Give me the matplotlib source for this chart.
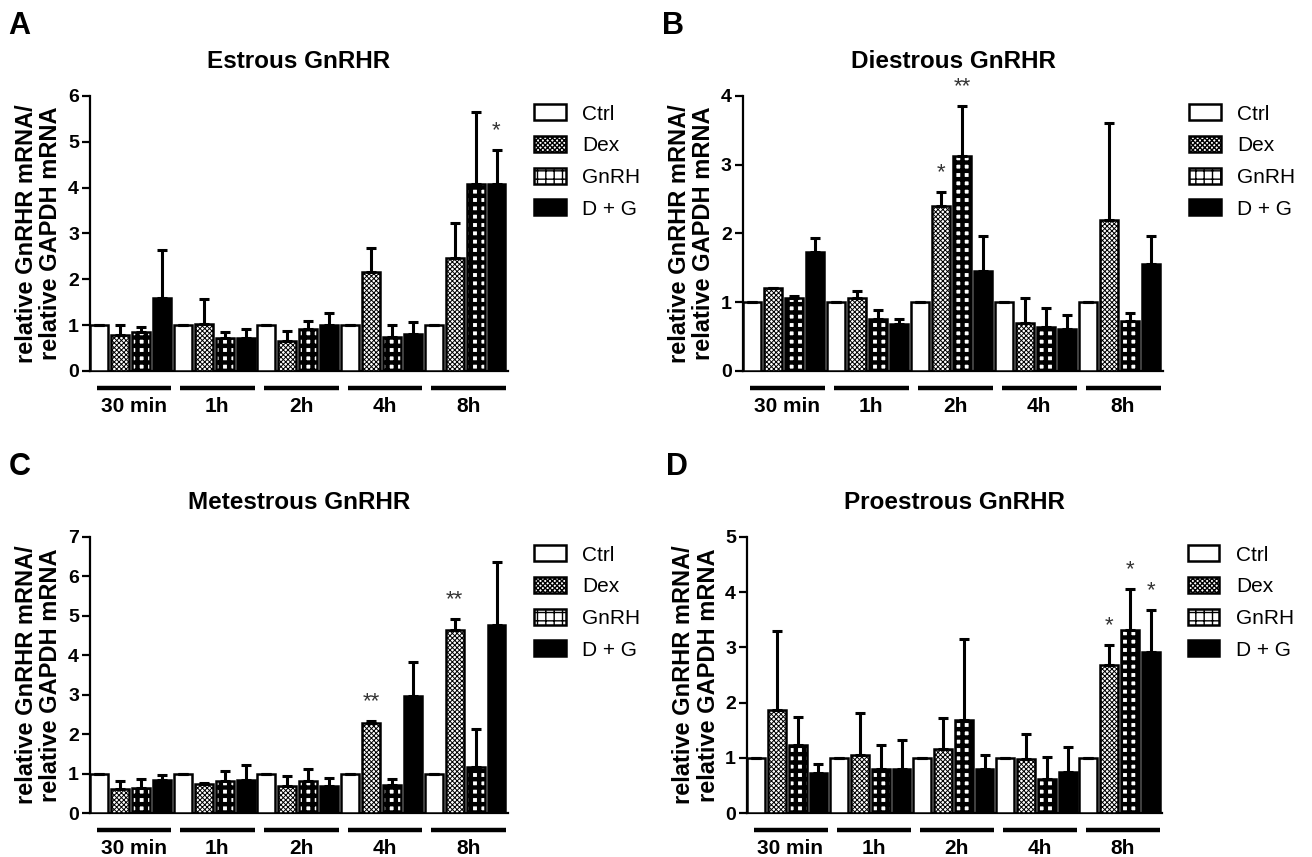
import matplotlib
matplotlib.use('Agg')
import matplotlib.pyplot as plt
import numpy as np

plt.rcParams['font.family'] = ['Liberation Sans', 'DejaVu Sans']
plt.rcParams['font.weight'] = 'bold'

times = ['30 min', '1h', '2h', '4h', '8h']
treatments = ['Ctrl', 'Dex', 'GnRH', 'D + G']

# mean values per treatment, one entry per time point
estrous = {
    'Ctrl': [1, 1, 1, 1, 1],
    'Dex': [0.78, 1.03, 0.65, 2.15, 2.47],
    'GnRH': [0.85, 0.72, 0.92, 0.75, 4.07],
    'D + G': [1.60, 0.72, 1.00, 0.81, 4.07],
}
estrous_err = {
    'Ctrl': [0, 0, 0, 0, 0],
    'Dex': [0.22, 0.53, 0.23, 0.54, 0.76],
    'GnRH': [0.10, 0.12, 0.18, 0.25, 1.58],
    'D + G': [1.04, 0.19, 0.26, 0.25, 0.76],
}
diestrous = {
    'Ctrl': [1, 1, 1, 1, 1],
    'Dex': [1.20, 1.06, 2.40, 0.70, 2.20],
    'GnRH': [1.06, 0.75, 3.13, 0.64, 0.73],
    'D + G': [1.73, 0.69, 1.45, 0.61, 1.55],
}
diestrous_err = {
    'Ctrl': [0, 0, 0, 0, 0],
    'Dex': [0.01, 0.11, 0.20, 0.36, 1.40],
    'GnRH': [0.03, 0.14, 0.72, 0.27, 0.11],
    'D + G': [0.21, 0.06, 0.52, 0.20, 0.41],
}
metestrous = {
    'Ctrl': [1, 1, 1, 1, 1],
    'Dex': [0.61, 0.74, 0.68, 2.28, 4.65],
    'GnRH': [0.63, 0.80, 0.80, 0.70, 1.18],
    'D + G': [0.85, 0.83, 0.68, 2.98, 4.78],
}
metestrous_err = {
    'Ctrl': [0, 0, 0, 0, 0],
    'Dex': [0.21, 0.01, 0.27, 0.05, 0.28],
    'GnRH': [0.23, 0.26, 0.32, 0.16, 0.96],
    'D + G': [0.12, 0.40, 0.21, 0.84, 1.58],
}
proestrous = {
    'Ctrl': [1, 1, 1, 1, 1],
    'Dex': [1.87, 1.06, 1.16, 0.98, 2.69],
    'GnRH': [1.23, 0.80, 1.68, 0.62, 3.32],
    'D + G': [0.72, 0.79, 0.79, 0.74, 2.92],
}
proestrous_err = {
    'Ctrl': [0, 0, 0, 0, 0],
    'Dex': [1.42, 0.76, 0.56, 0.46, 0.35],
    'GnRH': [0.51, 0.43, 1.47, 0.39, 0.74],
    'D + G': [0.16, 0.54, 0.26, 0.46, 0.75],
}

# significance marks: (treatment, time index, mark)
estrous_sig = [('D + G', 4, '*')]
diestrous_sig = [('Dex', 2, '*'), ('GnRH', 2, '**')]
metestrous_sig = [('Dex', 3, '**'), ('Dex', 4, '**')]
proestrous_sig = [('Dex', 4, '*'), ('GnRH', 4, '*'), ('D + G', 4, '*')]

styles = {
    'Ctrl': dict(color='white', hatch=None, hlw=1.0),
    'Dex': dict(color='white', hatch='xxxxxxx', hlw=0.7),
    'GnRH': dict(color='white', hatch='++', hlw=3.2),
    'D + G': dict(color='black', hatch=None, hlw=1.0),
}

fig = plt.figure(figsize=(13.12, 8.57), dpi=100)

panels = [
    ('A', 'Estrous GnRHR', estrous, estrous_err, estrous_sig, 6,
     [0.0686, 0.5671, 0.3186, 0.3209]),
    ('B', 'Diestrous GnRHR', diestrous, diestrous_err, diestrous_sig, 4,
     [0.5663, 0.5671, 0.3201, 0.3209]),
    ('C', 'Metestrous GnRHR', metestrous, metestrous_err, metestrous_sig, 7,
     [0.0686, 0.0513, 0.3186, 0.3221]),
    ('D', 'Proestrous GnRHR', proestrous, proestrous_err, proestrous_sig, 5,
     [0.5694, 0.0513, 0.3163, 0.3221]),
]

for letter, title, vals, errs, sigs, ymax, rect in panels:
    ax = fig.add_axes(rect)
    n = len(treatments)
    for i, t in enumerate(treatments):
        x = np.arange(len(times)) * n + i
        st = styles[t]
        with plt.rc_context({'hatch.linewidth': st['hlw']}):
            bars = ax.bar(x, vals[t], width=0.86, color=st['color'],
                          edgecolor='black', linewidth=1.8, hatch=st['hatch'],
                          yerr=[np.zeros(len(times)), errs[t]],
                          error_kw=dict(elinewidth=2.2, capsize=3.5,
                                        capthick=2.2, ecolor='black'),
                          label=t, zorder=3)
            for b in bars:
                if hasattr(b, 'set_hatch_linewidth'):
                    b.set_hatch_linewidth(st['hlw'])
    for t, g, mark in sigs:
        i = treatments.index(t)
        top = vals[t][g] + errs[t][g]
        ax.text(g * n + i, top + 0.07 * ymax, mark, ha='center', va='center',
                fontsize=16, fontweight='normal', color='#333333')

    ax.set_xlim(-0.44, len(times) * n - 0.45)
    ax.set_ylim(0, ymax)
    ax.set_yticks(range(ymax + 1))
    ax.set_xticks([])
    ax.spines['top'].set_visible(False)
    ax.spines['right'].set_visible(False)
    ax.spines['left'].set_linewidth(1.6)
    ax.spines['bottom'].set_linewidth(1.6)
    ax.tick_params(axis='y', length=6, width=1.6, labelsize=14, pad=2)
    ax.set_ylabel('relative GnRHR mRNA/\nrelative GAPDH mRNA', fontsize=17,
                  fontweight='bold', labelpad=4, linespacing=1.1)
    ax.set_title(title, fontsize=17.5, fontweight='bold', pad=20)

    tr = ax.get_xaxis_transform()
    for g, lab in enumerate(times):
        ax.plot([g * n - 0.12, g * n + 3.45], [-0.062, -0.062], color='black',
                lw=3.2, transform=tr, clip_on=False, solid_capstyle='butt')
        ax.text(g * n + 1.65, -0.13, lab, transform=tr, ha='center',
                va='center', fontsize=15, fontweight='bold')

    ax.legend(loc='upper left', bbox_to_anchor=(1.043, 1.0), frameon=False,
              handlelength=1.5, handleheight=0.8,
              handletextpad=0.8, labelspacing=0.6, borderaxespad=0,
              prop=dict(weight='normal', size=15))

    fx = rect[0] - 0.062
    fy = rect[1] + rect[3] + 0.082
    fig.text(fx, fy, letter, fontsize=22, fontweight='bold', ha='left',
             va='center')

fig.savefig('out.png', dpi=100)
